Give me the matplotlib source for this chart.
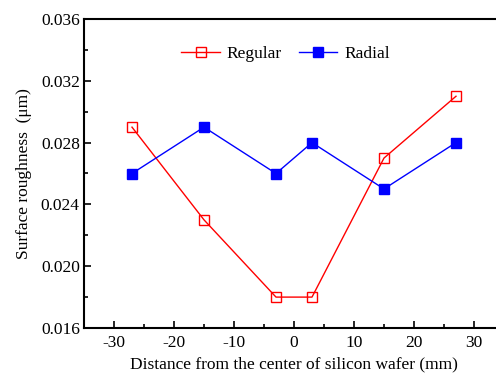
import matplotlib
matplotlib.use("Agg")
import matplotlib.pyplot as plt
from matplotlib.ticker import MultipleLocator

x = [-27, -15, -3, 3, 15, 27]
regular = [0.029, 0.023, 0.018, 0.018, 0.027, 0.031]
radial = [0.026, 0.029, 0.026, 0.028, 0.025, 0.028]

plt.rcParams['font.family'] = ['Liberation Serif', 'DejaVu Serif']
plt.rcParams['axes.unicode_minus'] = False

fig = plt.figure(figsize=(4.96, 3.74), dpi=100)
ax = fig.add_axes([84/496, 1-328/374, 420/496, (328-19)/374])

ax.plot(x, regular, color='red', marker='s', mfc='none', mec='red', ms=7.5, lw=1, label='Regular')
ax.plot(x, radial, color='blue', marker='s', mfc='blue', mec='blue', ms=7.5, lw=1, label='Radial')

ax.set_xlim(-35, 35)
ax.set_ylim(0.016, 0.036)
ax.xaxis.set_major_locator(MultipleLocator(10))
ax.xaxis.set_minor_locator(MultipleLocator(5))
ax.yaxis.set_major_locator(MultipleLocator(0.004))
ax.yaxis.set_minor_locator(MultipleLocator(0.002))
ax.yaxis.set_major_formatter(matplotlib.ticker.FormatStrFormatter('%.3f'))
ax.tick_params(which='both', direction='in', labelsize=12.5, width=1.2)
ax.tick_params(which='major', length=5)
ax.tick_params(which='minor', length=3)
ax.tick_params(axis='x', pad=5)
ax.tick_params(axis='y', pad=3)
for s in ax.spines.values():
    s.set_linewidth(1.5)

ax.set_xlabel('Distance from the center of silicon wafer (mm)', fontsize=12.5, labelpad=4)
ax.set_ylabel('Surface roughness  (\u03bcm)', fontsize=12.5, labelpad=6)
ax.legend(loc='center', bbox_to_anchor=(0.48, 0.888), ncol=2, frameon=False, fontsize=12.5,
          handlelength=2.2, columnspacing=1.0, handletextpad=0.4)

fig.savefig('out.png', dpi=100)
